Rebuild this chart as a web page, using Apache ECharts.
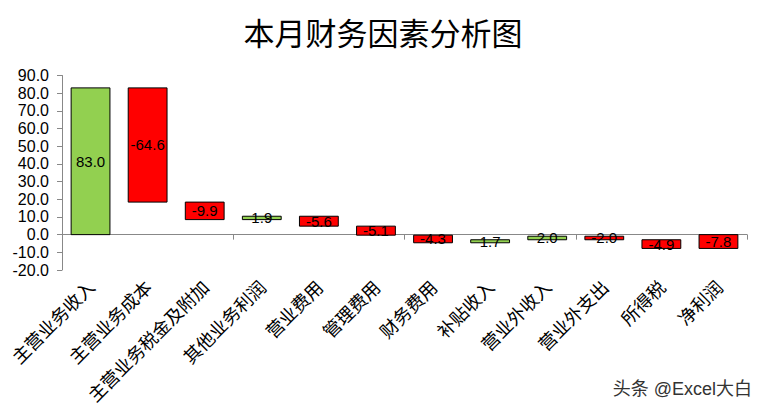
<!DOCTYPE html>
<html><head><meta charset="utf-8">
<script src="https://cdn.jsdelivr.net/npm/echarts@6/dist/echarts.min.js"></script>
<style>html,body{margin:0;padding:0;background:#fff}#c{width:766px;height:415px}</style>
</head><body><div id="c"></div>
<script>
const categories = ['主营业务收入','主营业务成本','主营业务税金及附加','其他业务利润','营业费用','管理费用','财务费用','补贴收入','营业外收入','营业外支出','所得税','净利润'];
const changes = [83.0, -64.6, -9.9, 1.9, -5.6, -5.1, -4.3, 1.7, 2.0, -2.0, -4.9, -7.8];
const isTotal = [true, false, false, false, false, false, false, false, false, false, false, true];
const yTicks = [-20, 90, 10];

const rows = [];
let run = 0;
changes.forEach((v, i) => {
  const start = isTotal[i] ? 0 : run;
  const end = start + v;
  run = end;
  rows.push([i, start, end, v]);
});

const green = '#92D050', red = '#FF0000';
const chart = echarts.init(document.getElementById('c'), null, {renderer: 'svg'});
chart.setOption({
  animation: false,
  title: {text: '本月财务因素分析图', left: 'center', top: 11,
    textStyle: {fontFamily: 'Noto Sans CJK SC', fontSize: 31, fontWeight: 'normal', color: '#000'}},
  grid: {left: 62, right: 19, top: 75.5, bottom: 145, containLabel: false},
  xAxis: [
    {type: 'category', data: categories, position: 'bottom',
      axisLine: {show: true, onZero: true, lineStyle: {color: '#888', width: 1}},
      axisTick: {show: true, length: 5, lineStyle: {color: '#888'}},
      axisLabel: {show: false}, splitLine: {show: false}},
    {type: 'category', data: categories, position: 'bottom',
      axisLine: {show: false, onZero: false}, axisTick: {show: false},
      axisLabel: {show: true, interval: 0, rotate: 45, margin: 13,
        fontFamily: 'Noto Sans CJK SC', fontSize: 18, color: '#000'}}
  ],
  yAxis: {type: 'value', min: yTicks[0], max: yTicks[1], interval: yTicks[2],
    axisLine: {show: true, lineStyle: {color: '#888'}},
    axisTick: {show: true, length: 5, lineStyle: {color: '#888'}},
    splitLine: {show: false},
    axisLabel: {formatter: v => v.toFixed(1), fontFamily: 'Liberation Sans', fontSize: 16, color: '#000', margin: 13}},
  series: [{
    type: 'custom', xAxisIndex: 0, data: rows,
    encode: {x: 0, y: [1, 2]},
    renderItem: function (params, api) {
      const i = api.value(0), a = api.value(1), b = api.value(2), v = api.value(3);
      const p1 = api.coord([i, a]), p2 = api.coord([i, b]);
      const w = api.size([1, 0])[0] * 0.68;
      const y = Math.min(p1[1], p2[1]), h = Math.abs(p1[1] - p2[1]);
      return {type: 'group', children: [
        {type: 'rect', shape: {x: p1[0] - w / 2, y: y, width: w, height: h},
          style: {fill: v >= 0 ? green : red, stroke: '#000', lineWidth: 1}},
        {type: 'text', x: p1[0], y: y + h / 2,
          style: {text: v.toFixed(1), align: 'center', verticalAlign: 'middle',
            fontFamily: 'Liberation Sans', fontSize: 15, fill: '#000'}}
      ]};
    }
  }],
  graphic: [{type: 'text', right: 14, top: 380,
    style: {text: '头条 @Excel大白', fontFamily: '"Liberation Sans", "Noto Sans CJK SC"', fontSize: 18, fill: '#333'}}]
});
</script></body></html>
